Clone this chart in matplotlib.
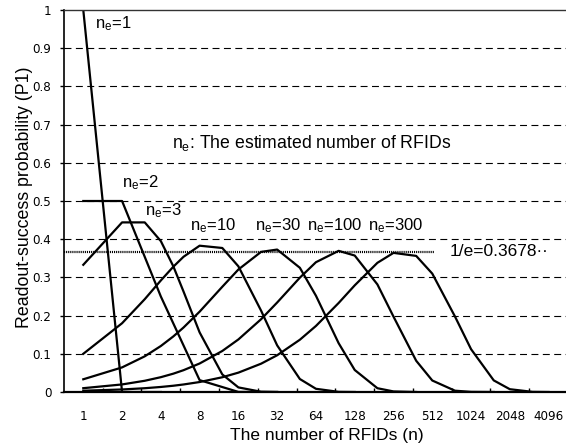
import matplotlib
matplotlib.use("Agg")
import matplotlib.pyplot as plt
from matplotlib.ticker import FixedLocator, NullFormatter
from matplotlib import font_manager

# ---------------- data ----------------
x_tick_n = [1, 2, 4, 8, 16, 32, 64, 128, 256, 512, 1024, 2048, 4096]
x_tick_labels = ["1", "2", "4", "8", "16", "32", "64", "128", "256", "512", "1024", "2048", "4096"]
y_ticks = [0, 0.1, 0.2, 0.3, 0.4, 0.5, 0.6, 0.7, 0.8, 0.9, 1.0]
y_tick_labels = ["0", "0.1", "0.2", "0.3", "0.4", "0.5", "0.6", "0.7", "0.8", "0.9", "1"]

n_ne1 = [1, 2, 4]
p_ne1 = [1.0, 0.0, 0.0]

n_ne2 = [1, 2, 4, 8, 16, 32]
p_ne2 = [0.5, 0.5, 0.25, 0.031, 0.0002, 0.0]

n_ne3 = [1, 2, 3, 4, 5, 6, 8, 12, 16, 24, 32]
p_ne3 = [0.333, 0.444, 0.444, 0.395, 0.329, 0.263, 0.156, 0.046, 0.012, 0.0007, 0.0]

n_ne10 = [1, 2, 3, 4, 5, 6, 8, 12, 16, 24, 32, 48, 64, 96, 128]
p_ne10 = [0.1, 0.18, 0.243, 0.292, 0.328, 0.354, 0.383, 0.377, 0.329, 0.213, 0.122,
          0.034, 0.0084, 0.0004, 0.0]

n_ne30 = [1, 2, 3, 4, 5, 6, 8, 12, 16, 24, 32, 48, 64, 96, 128, 192, 256, 384]
p_ne30 = [0.0333, 0.0644, 0.0934, 0.1204, 0.1455, 0.1688, 0.2103, 0.2755, 0.3207,
          0.3668, 0.3729, 0.3252, 0.252, 0.1278, 0.0576, 0.0099, 0.0015, 0.0]

n_ne100 = [1, 2, 3, 4, 5, 6, 8, 12, 16, 24, 32, 48, 64, 96, 128, 192, 256, 384,
           512, 768, 1024, 1536]
p_ne100 = [0.01, 0.0198, 0.0294, 0.0388, 0.048, 0.0571, 0.0746, 0.1074, 0.1376,
           0.1905, 0.2343, 0.2993, 0.3398, 0.3695, 0.3572, 0.2816, 0.1973, 0.0818,
           0.0301, 0.0034, 0.0004, 0.0]

n_ne300 = [1, 2, 3, 4, 5, 6, 8, 12, 16, 24, 32, 48, 64, 96, 128, 192, 256, 384,
           512, 768, 1024, 1536, 2048, 3072, 4096]
p_ne300 = [0.0033, 0.0066, 0.0099, 0.0132, 0.0164, 0.0197, 0.0261, 0.0386, 0.0507,
           0.0741, 0.0962, 0.1368, 0.1729, 0.233, 0.2792, 0.3382, 0.3642, 0.3563,
           0.3099, 0.1977, 0.1121, 0.0304, 0.0073, 0.0004, 0.0]

inv_e = 0.3678

series = [(n_ne1, p_ne1), (n_ne2, p_ne2), (n_ne3, p_ne3), (n_ne10, p_ne10),
          (n_ne30, p_ne30), (n_ne100, p_ne100), (n_ne300, p_ne300)]

# ---------------- style ----------------
fonts = font_manager.fontManager.ttflist
names = {f.name for f in fonts}
tick_font = {"family": "Liberation Sans", "size": 9.2}
if "Liberation Sans Narrow" in names:
    tick_font = {"family": "Liberation Sans Narrow", "size": 10.5}
elif any(f.name == "DejaVu Sans" and str(f.stretch) in ("condensed", "semi-condensed", "600", "700")
         for f in fonts):
    tick_font = {"family": "DejaVu Sans", "size": 9.5, "stretch": "condensed"}

plt.rcParams["font.family"] = ["Liberation Sans", "DejaVu Sans"]
plt.rcParams["mathtext.fontset"] = "custom"
plt.rcParams["mathtext.rm"] = "Liberation Sans"
plt.rcParams["mathtext.it"] = "Liberation Sans:italic"
plt.rcParams["lines.scale_dashes"] = False

W, H = 566, 447
fig = plt.figure(figsize=(W / 100, H / 100), dpi=100)
ax_left, ax_right, ax_top, ax_bottom = 63.9, 568.0, 10.0, 392.0
ax = fig.add_axes([ax_left / W, 1 - ax_bottom / H, (ax_right - ax_left) / W, (ax_bottom - ax_top) / H])

ax.set_xscale("log", base=2)
ax.set_xlim(2 ** -0.5, 2 ** 12.5)
ax.set_ylim(0, 1)

# grid lines (dashed)
for yv in y_ticks[1:-1]:
    ax.axhline(yv, color="black", lw=0.8, ls=(0, (5, 3.2)), zorder=1)

# curves
for n_vals, p_vals in series:
    ax.plot(n_vals, p_vals, color="black", lw=1.6, solid_joinstyle="round", zorder=3)

# 1/e dotted line
ax.hlines(inv_e, 2 ** -0.5, 530, colors="black", lw=1.6, linestyles=[(0, (0.8, 0.7))], zorder=2)

# spines
ax.spines["right"].set_visible(False)
ax.spines["top"].set_color("#333333")
ax.spines["top"].set_linewidth(1.0)
ax.spines["left"].set_linewidth(1.2)
ax.spines["bottom"].set_linewidth(1.6)
for s in ax.spines.values():
    s.set_zorder(4)

# ticks
ax.xaxis.set_major_locator(FixedLocator(x_tick_n))
ax.set_xticklabels(x_tick_labels, **tick_font)
ax.xaxis.set_minor_locator(FixedLocator([2 ** (k + 0.5) for k in range(12)]))
ax.xaxis.set_minor_formatter(NullFormatter())
ax.tick_params(axis="x", which="major", length=0, pad=13)
ax.tick_params(axis="x", which="minor", direction="in", length=3, width=1)

ax.set_yticks(y_ticks)
ax.set_yticklabels(y_tick_labels, **tick_font)
ax.tick_params(axis="y", which="major", direction="out", length=3, width=1, pad=6)
ax.yaxis.set_minor_locator(FixedLocator([]))

# annotations
fs = 12
ax.text(1.23, 0.953, r"n$_\mathrm{e}$=1", fontsize=fs, va="baseline", ha="left")
ax.text(2.0, 0.537, r"n$_\mathrm{e}$=2", fontsize=fs, va="baseline", ha="left")
ax.text(3.02, 0.463, r"n$_\mathrm{e}$=3", fontsize=fs, va="baseline", ha="left")
ax.text(6.74, 0.424, r"n$_\mathrm{e}$=10", fontsize=fs, va="baseline", ha="left")
ax.text(21.5, 0.424, r"n$_\mathrm{e}$=30", fontsize=fs, va="baseline", ha="left")
ax.text(54.6, 0.424, r"n$_\mathrm{e}$=100", fontsize=fs, va="baseline", ha="left")
ax.text(162.0, 0.424, r"n$_\mathrm{e}$=300", fontsize=fs, va="baseline", ha="left")
ax.text(4.88, 0.639, r"n$_\mathrm{e}$: The estimated number of RFIDs", fontsize=12.7,
        va="baseline", ha="left")
ax.text(704, inv_e, "1/e=0.3678\u00b7\u00b7", fontsize=12.5, va="center", ha="left")

# axis titles
fig.text(326.5 / W, 1 - 435.5 / H, "The number of RFIDs (n)", fontsize=12.5, ha="center", va="center")
fig.text(25 / W, 1 - 197 / H, "Readout-success probability (P1)", fontsize=12.8,
         rotation=90, ha="center", va="center")

fig.savefig("out.png", dpi=100)
